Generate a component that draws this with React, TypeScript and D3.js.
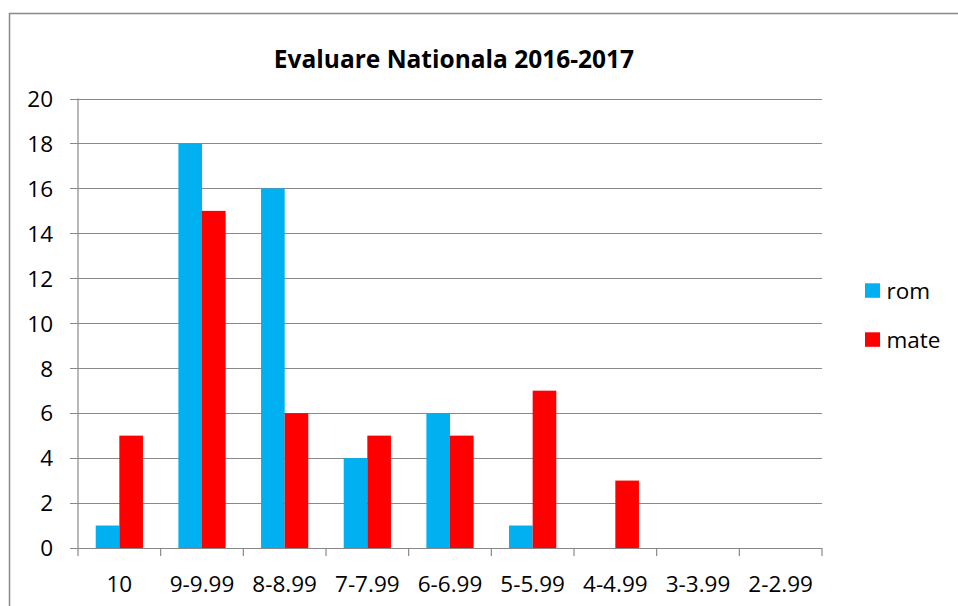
import React from "react";
import * as d3 from "d3";

const categories = ["10", "9-9.99", "8-8.99", "7-7.99", "6-6.99", "5-5.99", "4-4.99", "3-3.99", "2-2.99"];
const romValues = [1, 18, 16, 4, 6, 1, 0, 0, 0];
const mateValues = [5, 15, 6, 5, 5, 7, 3, 0, 0];
const seriesNames = ["rom", "mate"];
const seriesColors = ["#00B0F0", "#FF0000"];
const yTicks = [0, 2, 4, 6, 8, 10, 12, 14, 16, 18, 20];
const title = "Evaluare Nationala 2016-2017";

const W = 958, H = 606;
const left = 78, right = 822, top = 98.5, bottom = 548;
const font = "'Open Sans', 'Noto Sans', sans-serif";
const grid = "#898989";

export default function App() {
  const x = d3.scaleBand<string>().domain(categories).range([left, right]).paddingInner(0).paddingOuter(0);
  const y = d3.scaleLinear().domain([0, 20]).range([bottom, top]);
  const bw = x.bandwidth();
  const barW = bw / 3.5;
  const sub = d3.scaleBand<string>().domain(seriesNames).range([0.75 * barW, 2.75 * barW]);
  const data = [romValues, mateValues];

  return (
    <svg width={W} height={H} style={{ position: "absolute", left: 0, top: 0, background: "#fff" }}>
      <rect x={9.5} y={13.5} width={W + 10} height={H + 10} fill="#fff" stroke={grid} strokeWidth={1.5} />
      <text x={454} y={68} textAnchor="middle" fontFamily={font} fontWeight="bold" fontSize={24.5} fill="#000">{title}</text>
      {yTicks.map((t) => (
        <g key={t}>
          <line x1={70} x2={right} y1={Math.round(y(t)) + 0.5} y2={Math.round(y(t)) + 0.5} stroke={grid} strokeWidth={1.2} />
          <text x={53} y={y(t) + 8.3} textAnchor="end" fontFamily={font} fontSize={22.5} fill="#000">{t}</text>
        </g>
      ))}
      <line x1={left} x2={left} y1={top} y2={bottom} stroke={grid} strokeWidth={1.2} />
      {categories.map((c, i) => (
        <g key={c}>
          {data.map((vals, s) => (
            vals[i] > 0 ? (
              <rect key={s} x={(x(c) as number) + (sub(seriesNames[s]) as number)} width={sub.bandwidth()}
                y={y(vals[i])} height={y(0) - y(vals[i])} fill={seriesColors[s]} />
            ) : null
          ))}
          <text x={(x(c) as number) + bw / 2} y={591.5} textAnchor="middle" fontFamily={font} fontSize={22.5} fill="#000">{c}</text>
        </g>
      ))}
      {[...categories.map((c) => x(c) as number), right].map((tx, i) => (
        <line key={i} x1={tx} x2={tx} y1={bottom} y2={556} stroke={grid} strokeWidth={1.2} />
      ))}
      {seriesNames.map((n, s) => (
        <g key={n}>
          <rect x={865} y={283.3 + s * 49} width={15} height={14.5} fill={seriesColors[s]} />
          <text x={886.5} y={299 + s * 49} fontFamily={font} fontSize={22.5} fill="#000">{n}</text>
        </g>
      ))}
    </svg>
  );
}
